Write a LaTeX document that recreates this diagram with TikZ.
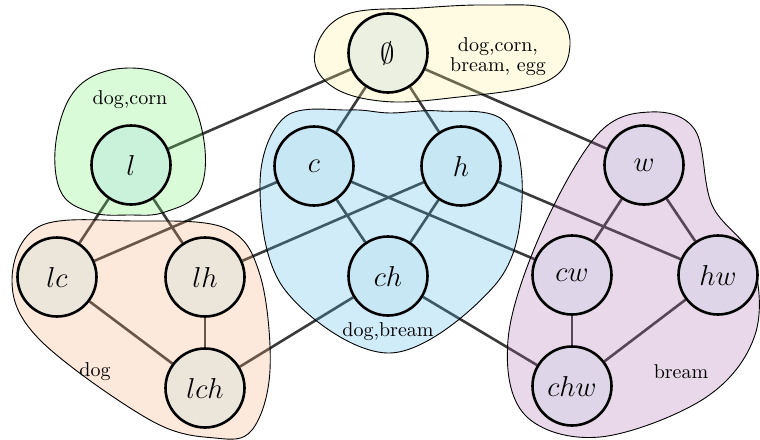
\documentclass[tikz,border=0pt]{standalone}
\definecolor{gblob}{RGB}{109,240,105}
\definecolor{yblob}{RGB}{251,240,143}
\definecolor{bblob}{RGB}{74,182,232}
\definecolor{oblob}{RGB}{247,170,117}
\definecolor{pblob}{RGB}{170,105,174}
\definecolor{gnode}{RGB}{202,242,218}
\definecolor{ynode}{RGB}{236,240,224}
\definecolor{bnode}{RGB}{200,231,245}
\definecolor{onode}{RGB}{236,229,218}
\definecolor{pnode}{RGB}{222,214,232}
\definecolor{edgegray}{RGB}{58,58,58}
\pgfdeclarelayer{edgelayer}
\pgfdeclarelayer{bloblayer}
\pgfsetlayers{edgelayer,bloblayer,main}
\tikzset{
  vert/.style={circle, draw=black, line width=1.3pt, minimum size=39.5pt, inner sep=0pt, font=\Large},
  blob/.style={draw=black, line width=0.45pt, fill opacity=0.26},
  link/.style={draw=edgegray, line width=1.3pt},
  lbl/.style={font=\fontsize{10}{7.5}\selectfont, align=center, inner sep=0pt}
}
\begin{document}
\begin{tikzpicture}[x=0.5pt, y=-0.5pt]
\useasboundingbox (0,0) rectangle (760,439);
% nodes
\node[vert, fill=ynode] (e) at (388,53) {$\emptyset$};
\node[vert, fill=gnode] (l) at (131,165) {$l$};
\node[vert, fill=bnode] (c) at (314,166) {$c$};
\node[vert, fill=bnode] (h) at (461,166) {$h$};
\node[vert, fill=pnode] (w) at (644,165) {$w$};
\node[vert, fill=onode] (lc) at (57,277) {$lc$};
\node[vert, fill=onode] (lh) at (205,277) {$lh$};
\node[vert, fill=bnode] (ch) at (388,276) {$ch$};
\node[vert, fill=pnode] (cw) at (572,275) {$cw$};
\node[vert, fill=pnode] (hw) at (718,275) {$hw$};
\node[vert, fill=onode] (lch) at (205,388) {$lch$};
\node[vert, fill=pnode] (chw) at (572,386) {$chw$};
% labels
\node[lbl] (t1) at (498,57) {dog,corn,\\bream, egg};
\node[lbl] (t2) at (130,100) {dog,corn};
\node[lbl] (t3) at (95,372) {dog};
\node[lbl] (t4) at (388,332) {dog,bream};
\node[lbl] (t5) at (681,372) {bream};
\begin{pgfonlayer}{bloblayer}
\draw[blob, fill=yblob] plot[smooth cycle, tension=0.65] coordinates {(315,52) (345,15) (420,8) (490,5) (550,10) (570,45) (545,82) (450,98) (380,101) (330,85)};
\draw[blob, fill=gblob] plot[smooth cycle, tension=0.65] coordinates {(130,68) (180,85) (203,135) (200,190) (165,212) (130,215) (90,212) (60,190) (57,135) (80,85)};
\draw[blob, fill=oblob] plot[smooth cycle, tension=0.6] coordinates {(12,280) (40,226) (133,221) (225,228) (260,275) (270,370) (252,430) (215,438) (150,420) (40,340)};
\draw[blob, fill=bblob] plot[smooth cycle, tension=0.6] coordinates {(260,185) (285,117) (350,110) (390,113) (440,111) (505,122) (522,200) (495,285) (390,353) (285,290)};
\draw[blob, fill=pblob] plot[smooth cycle, tension=0.6] coordinates {(597,135) (650,112) (695,130) (712,205) (752,258) (755,335) (705,398) (600,437) (525,415) (508,340) (540,235)};
\end{pgfonlayer}
\begin{pgfonlayer}{edgelayer}
\draw[link] (e) -- (l);
\draw[link] (e) -- (c);
\draw[link] (e) -- (h);
\draw[link] (e) -- (w);
\draw[link] (l) -- (lc);
\draw[link] (l) -- (lh);
\draw[link] (c) -- (lc);
\draw[link] (c) -- (ch);
\draw[link] (c) -- (cw);
\draw[link] (h) -- (lh);
\draw[link] (h) -- (ch);
\draw[link] (h) -- (hw);
\draw[link] (w) -- (cw);
\draw[link] (w) -- (hw);
\draw[link] (lc) -- (lch);
\draw[link] (lh) -- (lch);
\draw[link] (ch) -- (lch);
\draw[link] (ch) -- (chw);
\draw[link] (cw) -- (chw);
\draw[link] (hw) -- (chw);
\end{pgfonlayer}
\end{tikzpicture}
\end{document}
